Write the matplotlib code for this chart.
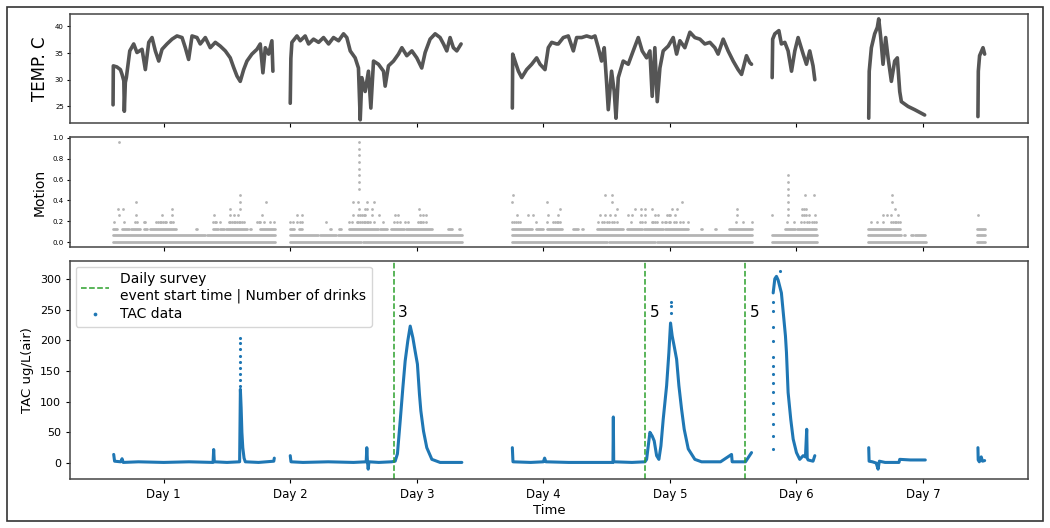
import matplotlib
matplotlib.use("Agg")
import matplotlib.pyplot as plt
from matplotlib.patches import Rectangle
import numpy as np

# ---------------- data (x in days) ----------------
temp_segments = [
    [(0.600, 25.3), (0.602, 32.6), (0.630, 32.4), (0.658, 31.9), (0.671, 31.0), (0.685, 29.8), (0.689, 24.1),
     (0.697, 29.5), (0.705, 30.4), (0.732, 35.4), (0.763, 36.7), (0.789, 35.1), (0.829, 35.7), (0.855, 31.9),
     (0.882, 37.0), (0.908, 37.9), (0.934, 35.4), (0.961, 33.5), (0.987, 35.7), (1.026, 36.7), (1.066, 37.6),
     (1.105, 38.2), (1.145, 37.9), (1.171, 36.0), (1.197, 33.8), (1.224, 38.2), (1.263, 37.9), (1.289, 36.7),
     (1.329, 37.9), (1.368, 36.0), (1.408, 37.0), (1.447, 36.3), (1.487, 35.4), (1.526, 34.1), (1.553, 32.3),
     (1.579, 30.7), (1.605, 29.7), (1.632, 31.9), (1.658, 33.5), (1.697, 34.8), (1.737, 35.7), (1.763, 36.7),
     (1.784, 31.3), (1.803, 36.0), (1.829, 34.8), (1.855, 37.3), (1.863, 31.6)],
    [(2.000, 25.6), (2.005, 34.0), (2.013, 37.0), (2.053, 38.2), (2.079, 37.3), (2.118, 38.2), (2.145, 36.7),
     (2.184, 37.6), (2.224, 37.0), (2.263, 37.9), (2.303, 36.7), (2.342, 37.9), (2.382, 37.3), (2.421, 38.6),
     (2.447, 37.9), (2.474, 35.4), (2.513, 34.1), (2.539, 32.2), (2.553, 22.5), (2.566, 30.4), (2.592, 27.8),
     (2.618, 31.6), (2.637, 24.7), (2.658, 33.5), (2.697, 32.9), (2.737, 31.6), (2.750, 28.8), (2.776, 32.6),
     (2.816, 33.5), (2.855, 34.8), (2.882, 36.0), (2.921, 34.5), (2.961, 35.4), (3.000, 34.1), (3.039, 32.2),
     (3.066, 35.1), (3.105, 37.6), (3.145, 38.6), (3.184, 37.9), (3.211, 36.7), (3.237, 35.4), (3.263, 37.9),
     (3.289, 36.0), (3.316, 35.4), (3.350, 36.7)],
    [(3.755, 24.7), (3.758, 34.8), (3.776, 33.5), (3.803, 31.6), (3.829, 30.4), (3.868, 31.9), (3.908, 32.9),
     (3.947, 34.1), (3.974, 32.9), (4.013, 31.9), (4.039, 36.0), (4.066, 37.0), (4.105, 36.7), (4.118, 36.7),
     (4.158, 37.9), (4.197, 38.2), (4.237, 35.4), (4.263, 37.9), (4.303, 37.9), (4.342, 38.2), (4.382, 37.9),
     (4.408, 38.2), (4.434, 36.0), (4.460, 33.5), (4.481, 36.0), (4.500, 29.4), (4.513, 24.4), (4.539, 31.6),
     (4.560, 27.8), (4.574, 22.8), (4.592, 30.4), (4.631, 33.5), (4.671, 32.9), (4.710, 35.4), (4.750, 37.9),
     (4.781, 35.4), (4.816, 34.1), (4.842, 35.4), (4.860, 26.9), (4.881, 36.0), (4.900, 25.9), (4.921, 32.2),
     (4.947, 35.4), (4.987, 36.3), (5.026, 37.9), (5.053, 34.8), (5.079, 37.3), (5.118, 36.0), (5.158, 38.9),
     (5.197, 37.9), (5.237, 37.6), (5.276, 36.7), (5.316, 37.0), (5.355, 36.0), (5.381, 34.8), (5.421, 37.6),
     (5.460, 35.4), (5.500, 33.5), (5.539, 31.9), (5.566, 31.0), (5.605, 34.5), (5.631, 33.2), (5.645, 32.9)],
    [(5.808, 30.4), (5.812, 37.6), (5.829, 38.6), (5.861, 39.2), (5.881, 36.7), (5.908, 37.0), (5.934, 35.4),
     (5.961, 31.6), (5.987, 35.4), (6.013, 37.9), (6.053, 34.8), (6.079, 32.9), (6.105, 35.4), (6.131, 32.6),
     (6.145, 30.0)],
    [(6.571, 22.8), (6.575, 31.6), (6.592, 36.0), (6.618, 38.6), (6.639, 39.8), (6.650, 41.4), (6.666, 37.9),
     (6.684, 32.9), (6.705, 37.9), (6.724, 34.1), (6.750, 29.7), (6.776, 33.5), (6.797, 34.1), (6.816, 27.8),
     (6.829, 25.9), (6.882, 25.0), (6.934, 24.4), (7.013, 23.4)],
    [(7.434, 23.1), (7.437, 31.6), (7.447, 34.5), (7.474, 36.0), (7.487, 34.8)],
]

motion_step = 0.064
motion_level0 = [(0.600, 1.882), (1.995, 2.560), (2.575, 3.355), (3.755, 4.500), (4.515, 4.880),
                 (4.900, 5.650), (5.803, 6.163), (6.566, 7.026), (7.429, 7.492)]
motion_level1 = [(0.600, 1.330), (1.340, 1.882), (1.995, 2.220), (2.235, 2.360), (2.375, 3.355),
                 (3.755, 4.310), (4.325, 5.650), (5.803, 6.163), (6.566, 6.829), (6.846, 6.854),
                 (6.909, 6.917), (6.934, 7.013), (7.429, 7.492)]
motion_level2 = [(0.600, 0.632), (0.671, 0.724), (0.742, 0.811), (0.842, 0.868), (0.889, 1.100),
                 (1.259, 1.267), (1.389, 1.426), (1.447, 1.479), (1.495, 1.658), (1.680, 1.688),
                 (1.758, 1.882), (1.995, 2.032), (2.066, 2.092), (2.317, 2.325), (2.389, 2.400),
                 (2.461, 2.697), (2.711, 2.768), (2.797, 2.895), (2.916, 3.118), (3.250, 3.276),
                 (3.333, 3.341), (3.755, 3.908), (3.942, 4.000), (4.026, 4.145), (4.237, 4.276),
                 (4.303, 4.316), (4.421, 4.631), (4.658, 4.776), (4.797, 4.947), (4.960, 5.145),
                 (5.246, 5.254), (5.359, 5.367), (5.466, 5.650), (5.908, 5.992), (6.008, 6.158),
                 (6.566, 6.816), (7.429, 7.492)]
motion_points = {
    3: [0.611, 0.689, 0.776, 0.790, 0.842, 0.855, 0.942, 0.955, 0.968, 0.982, 0.995, 1.008, 1.021, 1.047,
        1.060, 1.074, 1.389, 1.402, 1.416, 1.442, 1.513, 1.526, 1.539, 1.553, 1.566, 1.579, 1.592, 1.605,
        1.620, 1.637, 1.737, 1.750, 1.763, 1.789, 1.837, 1.868,
        2.000, 2.021, 2.053, 2.074, 2.095, 2.284, 2.461, 2.487, 2.526, 2.539, 2.553, 2.566, 2.579, 2.592,
        2.605, 2.618, 2.632, 2.658, 2.732, 2.816, 2.842, 2.868, 2.908, 2.934, 3.013, 3.024, 3.037, 3.050,
        3.074,
        3.755, 3.768, 3.782, 3.800, 3.816, 3.942, 4.026, 4.074, 4.089, 4.105, 4.113, 4.132, 4.434, 4.460,
        4.481, 4.500, 4.520, 4.540, 4.560, 4.580, 4.692, 4.763, 4.776, 4.803, 4.855, 4.870, 4.885, 4.900,
        4.934, 4.960, 4.970, 4.990, 5.000, 5.030, 5.050, 5.080, 5.100, 5.145, 5.526, 5.579, 5.645,
        5.929, 5.979, 6.039, 6.060, 6.080, 6.100, 6.120, 6.140, 6.158,
        6.592, 6.639, 6.684, 6.750, 6.763, 6.776, 6.790, 6.803, 6.816],
    4: [0.645, 0.784, 0.987, 1.066, 1.395, 1.526, 1.558, 1.584, 1.776,
        2.053, 2.092, 2.492, 2.539, 2.550, 2.566, 2.580, 2.592, 2.645, 2.705, 2.829, 2.855, 3.026, 3.050,
        3.074, 3.789, 3.876, 3.921, 4.039, 4.118, 4.447, 4.487, 4.526, 4.566, 4.671, 4.697, 4.771, 4.803,
        4.881, 4.908, 4.974, 4.990, 5.000, 5.040, 5.534, 5.808, 5.934, 6.045, 6.060, 6.076, 6.100, 6.145,
        6.684, 6.718, 6.750, 6.803, 7.434],
    5: [0.637, 0.679, 1.066, 1.521, 1.600, 2.547, 2.592, 2.605, 2.645, 3.021, 4.131, 4.579, 4.724, 4.771,
        4.803, 4.855, 5.013, 5.060, 5.534, 5.934, 6.045, 6.058, 6.072, 6.776],
    6: [0.784, 1.605, 1.811, 2.492, 2.539, 2.605, 2.663, 3.755, 4.032, 4.545, 5.097, 5.934, 6.758],
    7: [1.605, 3.763, 4.487, 4.539, 5.934, 6.071, 6.139, 6.758],
    8: [2.547, 5.934],
    9: [2.547, 5.934],
    10: [2.547, 5.934],
    11: [2.547],
    12: [2.547],
    13: [2.547],
    14: [2.547],
    15: [0.645, 2.547],
}

tac_segments = [
    [(0.605, 14), (0.612, 3), (0.660, 2), (0.671, 7), (0.680, 1), (0.800, 2), (1.000, 1), (1.200, 2),
     (1.390, 1), (1.395, 22), (1.400, 2), (1.500, 1), (1.600, 2), (1.606, 120), (1.612, 90), (1.618, 50),
     (1.625, 25), (1.635, 8), (1.645, 2), (1.750, 1), (1.870, 3), (1.874, 8)],
    [(2.000, 12), (2.006, 2), (2.100, 1), (2.300, 2), (2.500, 1), (2.600, 2), (2.605, 25), (2.610, 3),
     (2.616, -10), (2.622, 2), (2.700, 1), (2.800, 2), (2.829, 3), (2.847, 15), (2.869, 69), (2.890, 123),
     (2.908, 166), (2.929, 199), (2.948, 223), (2.969, 204), (2.987, 182), (3.005, 161), (3.021, 112),
     (3.032, 85), (3.053, 52), (3.079, 25), (3.119, 6), (3.184, 1), (3.300, 1), (3.356, 1)],
    [(3.755, 25), (3.760, 2), (3.900, 1), (4.000, 2), (4.010, 8), (4.020, 2), (4.200, 1), (4.400, 1),
     (4.550, 1), (4.553, 75), (4.556, 2), (4.700, 1), (4.803, 2), (4.816, 6), (4.842, 50), (4.860, 44),
     (4.876, 36), (4.895, 12), (4.913, 6), (4.929, 28), (4.947, 71), (4.974, 126), (4.992, 180),
     (5.005, 228), (5.018, 207), (5.034, 190), (5.053, 169), (5.071, 126), (5.092, 88), (5.113, 55),
     (5.145, 23), (5.197, 6), (5.250, 2), (5.400, 2), (5.487, 14), (5.492, 2), (5.597, 2), (5.645, 17)],
    [(5.816, 277), (5.829, 300), (5.842, 304), (5.855, 298), (5.881, 277), (5.903, 229), (5.913, 207),
     (5.921, 180), (5.934, 115), (5.955, 71), (5.974, 39), (6.000, 17), (6.026, 6), (6.053, 12),
     (6.071, 10), (6.081, 55), (6.085, 8), (6.092, 5), (6.131, 3), (6.145, 12)],
    [(6.571, 25), (6.574, 3), (6.600, 2), (6.630, 0), (6.645, -10), (6.655, 3), (6.700, 1), (6.810, 1),
     (6.816, 6), (6.900, 5), (7.018, 5)],
    [(7.434, 25), (7.436, 5), (7.445, 2), (7.460, 10), (7.470, 3), (7.487, 4)],
]
tac_sparse_x = [1.605] * 9 + [5.005] * 3 + [5.811] * 14 + [5.868]
tac_sparse_y = [125, 135, 145, 155, 165, 175, 185, 195, 203,
                245, 255, 263,
                23, 44, 63, 80, 98, 115, 131, 145, 158, 172, 198, 222, 248, 262,
                312]

event_days = [2.816, 4.803, 5.597]
event_drinks = [3, 5, 5]
day_ticks = [1, 2, 3, 4, 5, 6, 7]
day_labels = ["Day 1", "Day 2", "Day 3", "Day 4", "Day 5", "Day 6", "Day 7"]

# ---------------- figure ----------------
fig = plt.figure(figsize=(10.5, 5.28), dpi=100)
fig.patches.append(Rectangle((7 / 1050, 7 / 528), 1036 / 1050, 514 / 528, transform=fig.transFigure,
                             fill=False, edgecolor="#333333", linewidth=1.2))

L, W = 0.0667, 0.9124
ax1 = fig.add_axes([L, 0.767, W, 0.2064])
ax2 = fig.add_axes([L, 0.532, W, 0.2083], sharex=ax1)
ax3 = fig.add_axes([L, 0.0928, W, 0.4129], sharex=ax1)

temp_color = "#555555"
motion_color = "#b4b4b4"
tac_color = "#1f77b4"

for seg in temp_segments:
    xs, ys = zip(*seg)
    ax1.plot(xs, ys, color=temp_color, lw=2.6, solid_joinstyle="round", solid_capstyle="round")
ax1.set_ylabel("TEMP. C", fontsize=12)
ax1.set_yticks([25, 30, 35, 40])

for lvl, segs in ((0, motion_level0), (1, motion_level1), (2, motion_level2)):
    for a, b in segs:
        ax2.plot([a, b], [lvl * motion_step] * 2, color=motion_color, lw=2.0, solid_capstyle="round")
for lvl, xs in motion_points.items():
    ax2.scatter(xs, [lvl * motion_step] * len(xs), s=4, color=motion_color, linewidths=0)
ax2.set_ylabel("Motion", fontsize=10)
ax2.set_yticks([0.0, 0.2, 0.4, 0.6, 0.8, 1.0])

for seg in tac_segments:
    xs, ys = zip(*seg)
    ax3.plot(xs, ys, color=tac_color, lw=2.2, solid_joinstyle="round", solid_capstyle="round")
tac_sc = ax3.scatter(tac_sparse_x, tac_sparse_y, s=5, color=tac_color, linewidths=0, label="TAC data")
ev_line = None
for i, (d, n) in enumerate(zip(event_days, event_drinks)):
    ln = ax3.axvline(d, color="#2ca02c", ls="--", lw=1.1,
                     label="Daily survey\nevent start time | Number of drinks")
    if ev_line is None:
        ev_line = ln
    ax3.text(d + 0.035, 245, str(n), fontsize=11, ha="left", va="center")
ax3.set_ylabel("TAC ug/L(air)", fontsize=9.5)
ax3.set_xlabel("Time", fontsize=9.5, labelpad=2)
ax3.set_yticks([0, 50, 100, 150, 200, 250, 300])
ax3.set_xticks(day_ticks)
ax3.set_xticklabels(day_labels)
ax3.legend([ev_line, tac_sc], [ev_line.get_label(), "TAC data"], loc="upper left", fontsize=10,
           markerscale=1.2, handlelength=2.0, borderaxespad=0.4, labelspacing=0.3)

ax1.set_ylim(21.9, 42.3)
ax2.set_ylim(-0.048, 1.008)
ax3.set_ylim(-26, 329)
ax1.set_xlim(0.26, 7.83)

for ax in (ax1, ax2):
    ax.tick_params(axis="x", labelbottom=False, length=3)
    ax.tick_params(axis="y", labelsize=5, length=2.5, pad=2)
ax3.tick_params(axis="x", labelsize=8.5, length=3)
ax3.tick_params(axis="y", labelsize=8, length=3)
for ax in (ax1, ax2, ax3):
    for sp in ax.spines.values():
        sp.set_color("#444444")
        sp.set_linewidth(1.1)

fig.savefig("out.png", dpi=100)
